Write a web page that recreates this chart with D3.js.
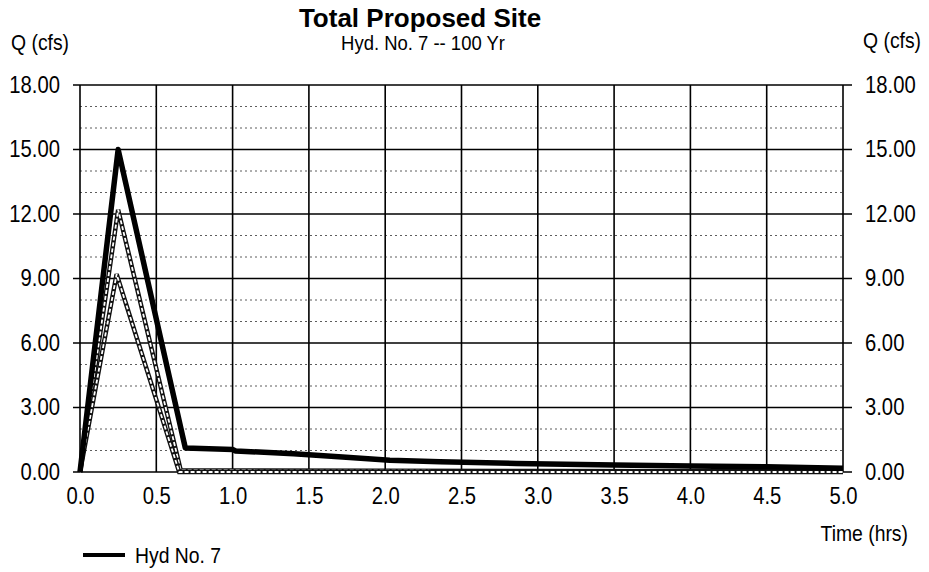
<!DOCTYPE html>
<html>
<head>
<meta charset="utf-8">
<script src="https://cdn.jsdelivr.net/npm/d3@7"></script>
<style>
  body { margin: 0; background: #fff; }
  text { font-family: "Liberation Sans", Arial, sans-serif; fill: #000; }
</style>
</head>
<body>
<div id="chart"><svg width="929" height="572"></svg></div>
<script>
// hydrograph ordinates
var timeHyd7 = [0, 0.25, 0.69, 1.0, 1.02, 1.4, 1.72, 2.03, 2.36, 2.86, 3.5, 4.0, 4.5, 5.0];
var flowHyd7 = [0, 15.0, 1.12, 1.05, 0.98, 0.85, 0.7, 0.55, 0.48, 0.4, 0.33, 0.28, 0.24, 0.18];

var timeHydA = [0, 0.25, 0.66, 1.0, 2.0, 3.0, 4.0, 5.0];
var flowHydA = [0, 12.2, 0.08, 0.07, 0.06, 0.05, 0.04, 0.03];

var timeHydB = [0, 0.24, 0.65, 5.0];
var flowHydB = [0, 9.2, 0.0, 0.0];

var xTicks = [0, 0.5, 1.0, 1.5, 2.0, 2.5, 3.0, 3.5, 4.0, 4.5, 5.0];
var yTicks = [0, 3, 6, 9, 12, 15, 18];
var yMinor = [1, 2, 4, 5, 7, 8, 10, 11, 13, 14, 16, 17];

function Chart(config){
    var width = config.width,
        height = config.height,
        margin = config.margin,
        sx = 0.88,   // the scan's font is tall and narrow
        svg, x, y

    function chart(){
        initialize();
        drawGrid();
        drawAxes();
        drawLines();
        drawText();
    }

    const initialize = () => {
        svg = d3.select('#' + config.id).select('svg');
        x = d3.scaleLinear().domain([0, 5]).range([margin.left, width - margin.right]);
        y = d3.scaleLinear().domain([0, 18]).range([height - margin.bottom, margin.top]);
    }

    const drawGrid = () => {
        var g = svg.append('g');
        g.selectAll('.minor').data(yMinor).enter().append('line')
            .attr('x1', x(0)).attr('x2', x(5))
            .attr('y1', d => y(d)).attr('y2', d => y(d))
            .attr('stroke', '#333').attr('stroke-width', 0.8)
            .attr('stroke-dasharray', '2,3');
        g.selectAll('.vmaj').data(xTicks).enter().append('line')
            .attr('x1', d => x(d)).attr('x2', d => x(d))
            .attr('y1', y(0)).attr('y2', y(18))
            .attr('stroke', '#000').attr('stroke-width', 1.6);
        g.selectAll('.hmaj').data(yTicks).enter().append('line')
            .attr('x1', x(0) - 7).attr('x2', x(5) + 9)
            .attr('y1', d => y(d)).attr('y2', d => y(d))
            .attr('stroke', '#000').attr('stroke-width', 1.6);
    }

    const drawAxes = () => {
        var fmt = d3.format('.2f');
        var left = svg.append('g')
            .attr('transform', 'translate(' + x(0) + ',0)')
            .call(d3.axisLeft(y).tickValues(yTicks).tickFormat(fmt).tickSize(0).tickPadding(20));
        var right = svg.append('g')
            .attr('transform', 'translate(' + x(5) + ',0)')
            .call(d3.axisRight(y).tickValues(yTicks).tickFormat(fmt).tickSize(0).tickPadding(22));
        var bottom = svg.append('g')
            .attr('transform', 'translate(0,' + y(0) + ')')
            .call(d3.axisBottom(x).tickValues(xTicks).tickFormat(d3.format('.1f')).tickSize(0).tickPadding(16));
        [left, right, bottom].forEach(a => {
            a.select('.domain').remove();
            a.selectAll('text')
                .style('font-size', '23px')
                .style('font-family', '"Liberation Sans", Arial, sans-serif')
                .attr('x', function(){ return (+d3.select(this).attr('x') || 0) / sx; })
                .attr('transform', 'scale(' + sx + ',1)');
        });
    }

    const drawLines = () => {
        var line = d3.line().x(d => x(d[0])).y(d => y(d[1]));
        var a = d3.zip(timeHydA, flowHydA),
            b = d3.zip(timeHydB, flowHydB),
            main = d3.zip(timeHyd7, flowHyd7);
        [a, b].forEach(s => {
            svg.append('path').datum(s).attr('d', line)
                .attr('fill', 'none').attr('stroke', '#111').attr('stroke-width', 4.5);
            svg.append('path').datum(s).attr('d', line)
                .attr('fill', 'none').attr('stroke', '#fff').attr('stroke-width', 1.8)
                .attr('stroke-dasharray', '4,2');
        });
        svg.append('path').datum(main).attr('d', line)
            .attr('fill', 'none').attr('stroke', '#000').attr('stroke-width', 5.5)
            .attr('stroke-linejoin', 'round');
    }

    const label = (px, py, txt, size, anchor, weight, scale) => {
        svg.append('text')
            .attr('transform', 'translate(' + px + ',' + py + ') scale(' + (scale || sx) + ',1)')
            .attr('text-anchor', anchor || 'start')
            .style('font-size', size + 'px')
            .style('font-weight', weight || 'normal')
            .text(txt);
    }

    const drawText = () => {
        label(420, 27, 'Total Proposed Site', 26, 'middle', 'bold', 1);
        label(423, 50, 'Hyd. No. 7 -- 100 Yr', 21, 'middle');
        label(11, 50, 'Q (cfs)', 22);
        label(863, 48, 'Q (cfs)', 22);
        label(908, 541, 'Time (hrs)', 22, 'end');
        // legend
        svg.append('line').attr('x1', 83).attr('x2', 125).attr('y1', 555).attr('y2', 555)
            .attr('stroke', '#000').attr('stroke-width', 4);
        label(135, 563, 'Hyd No. 7', 22);
    }

    return chart;
}

var chart = Chart({id: 'chart', width: 929, height: 572,
    margin: {top: 85, bottom: 100, left: 80, right: 86}});
chart();
</script>
</body>
</html>
